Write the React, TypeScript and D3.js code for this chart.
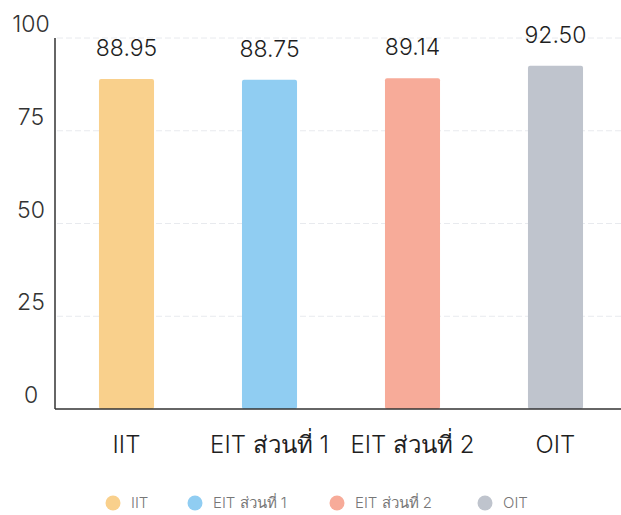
import { useEffect, useRef } from "react";
import * as d3 from "d3";

const categories = ["IIT", "EIT ส่วนที่ 1", "EIT ส่วนที่ 2", "OIT"];
const scores = [88.95, 88.75, 89.14, 92.5];
const colors = ["#f9d08c", "#90cdf2", "#f7ab99", "#bfc4cd"];
const yTicks = [0, 25, 50, 75, 100];

const FONT = "Inter, 'Noto Sans', sans-serif";

export default function App() {
  const svgRef = useRef<SVGSVGElement>(null);

  useEffect(() => {
    const width = 621;
    const height = 515;
    const svg = d3.select(svgRef.current).attr("width", width).attr("height", height);
    svg.selectAll("*").remove();

    // plot area
    const left = 55;
    const top = 38;
    const bottom = 409;

    const xScale = d3
      .scaleBand<string>()
      .domain(categories)
      .range([left, left + 4 * 143])
      .paddingInner(0.615)
      .paddingOuter(0.3075);
    const yScale = d3.scaleLinear().domain([0, 100]).range([bottom, top]);

    // grid lines
    svg
      .append("g")
      .selectAll("line")
      .data(yTicks.filter((t) => t > 0))
      .join("line")
      .attr("x1", left + 2)
      .attr("x2", width)
      .attr("y1", (d) => yScale(d))
      .attr("y2", (d) => yScale(d))
      .attr("stroke", "#e8eaee")
      .attr("stroke-width", 1)
      .attr("stroke-dasharray", "6,3");

    // bars
    svg
      .append("g")
      .selectAll("rect")
      .data(scores)
      .join("rect")
      .attr("x", (d, i) => xScale(categories[i])!)
      .attr("y", (d) => yScale(d))
      .attr("width", xScale.bandwidth())
      .attr("height", (d) => bottom - yScale(d))
      .attr("rx", 2)
      .attr("fill", (d, i) => colors[i]);

    // value labels
    svg
      .append("g")
      .selectAll("text")
      .data(scores)
      .join("text")
      .attr("x", (d, i) => xScale(categories[i])! + xScale.bandwidth() / 2)
      .attr("y", (d) => yScale(d) - 23)
      .attr("text-anchor", "middle")
      .attr("font-family", FONT)
      .attr("font-size", 23)
      .attr("font-weight", 300)
      .attr("fill", "#1f1f1f")
      .text((d) => d.toFixed(2));

    // axes
    svg
      .append("line")
      .attr("x1", left)
      .attr("x2", left)
      .attr("y1", top)
      .attr("y2", bottom)
      .attr("stroke", "#333")
      .attr("stroke-width", 1.5);
    svg
      .append("line")
      .attr("x1", left)
      .attr("x2", width)
      .attr("y1", bottom)
      .attr("y2", bottom)
      .attr("stroke", "#333")
      .attr("stroke-width", 1.5);

    // y tick labels, centred and sitting just above their grid line
    svg
      .append("g")
      .selectAll("text")
      .data(yTicks)
      .join("text")
      .attr("x", 31)
      .attr("y", (d) => yScale(d) - 6)
      .attr("text-anchor", "middle")
      .attr("font-family", FONT)
      .attr("font-size", 23)
      .attr("font-weight", 300)
      .attr("fill", "#333")
      .text((d) => d);

    // x labels
    svg
      .append("g")
      .selectAll("text")
      .data(categories)
      .join("text")
      .attr("x", (d) => xScale(d)! + xScale.bandwidth() / 2)
      .attr("y", 453)
      .attr("text-anchor", "middle")
      .attr("font-family", FONT)
      .attr("font-size", 24)
      .attr("font-weight", 300)
      .attr("fill", "#1f1f1f")
      .text((d) => d);

    // legend
    const legendX = [113, 195, 337, 485];
    const legend = svg
      .append("g")
      .selectAll("g")
      .data(categories)
      .join("g")
      .attr("transform", (d, i) => `translate(${legendX[i]}, 503)`);
    legend
      .append("circle")
      .attr("r", 7.5)
      .attr("fill", (d, i) => colors[i]);
    legend
      .append("text")
      .attr("x", 18)
      .attr("y", 5)
      .attr("font-family", FONT)
      .attr("font-size", 15)
      .attr("font-weight", 300)
      .attr("fill", "#777")
      .text((d) => d);
  }, []);

  return (
    <div style={{ position: "absolute", left: 0, top: 0 }}>
      <svg ref={svgRef}></svg>
    </div>
  );
}
